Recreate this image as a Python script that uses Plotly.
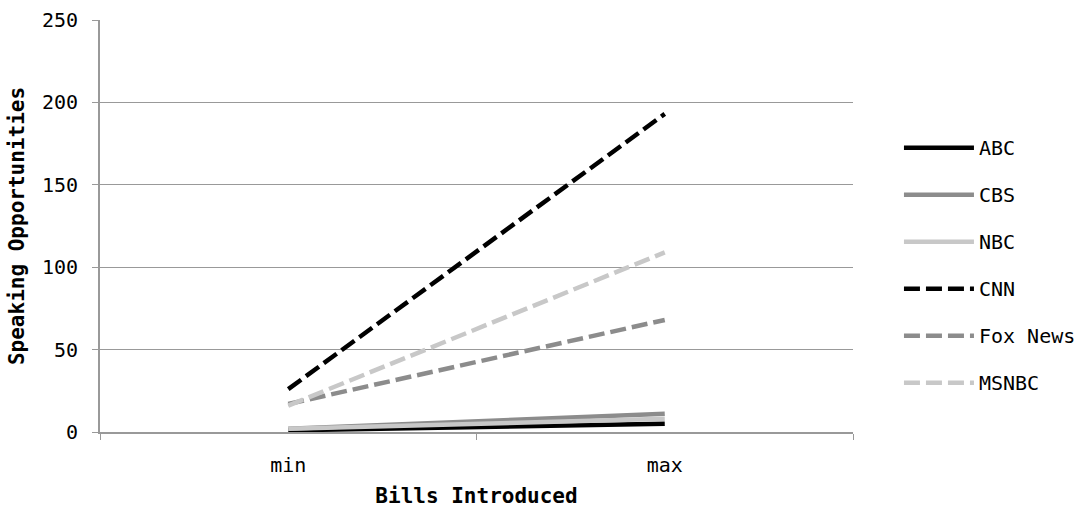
import plotly.graph_objects as go

categories = ["min", "max"]
series_names = ["ABC", "CBS", "NBC", "CNN", "Fox News", "MSNBC"]
abc = [1, 5]
cbs = [2, 11]
nbc = [2, 8]
cnn = [26, 193]
fox = [17, 68]
msnbc = [16, 109]
y_ticks = [0, 50, 100, 150, 200, 250]

values = [abc, cbs, nbc, cnn, fox, msnbc]
colors = ["#000000", "#8c8c8c", "#c8c8c8", "#000000", "#8c8c8c", "#c8c8c8"]
dashes = ["solid", "solid", "solid", "16px,6px", "16px,6px", "16px,6px"]

FONT = "DejaVu Sans Mono"

fig = go.Figure()
for name, vals, c, d in zip(series_names, values, colors, dashes):
    fig.add_trace(go.Scatter(
        x=categories, y=vals, name=name, mode="lines",
        line=dict(color=c, width=4.5, dash=d),
        legendgroup=name,
    ))

fig.update_layout(
    width=1081, height=508,
    margin=dict(l=100, r=228, t=20, b=76, autoexpand=False),
    plot_bgcolor="white", paper_bgcolor="white",
    font=dict(family=FONT, size=20, color="#000000"),
    showlegend=True,
    legend=dict(xref="container", yref="container",
                x=0.8316, xanchor="left", y=0.478, yanchor="middle",
                maxheight=480,
                itemwidth=70, tracegroupgap=18, font=dict(size=20, family=FONT)),
    xaxis=dict(
        type="category", range=[-0.5, 1.5],
        showline=True, linecolor="#999999", linewidth=2,
        ticks="outside", tickson="boundaries", ticklen=6, tickcolor="#999999",
        ticklabelstandoff=14,
        showgrid=False,
        title=dict(text="<b>Bills Introduced</b>", font=dict(size=21, family=FONT), standoff=12),
    ),
    yaxis=dict(
        range=[0, 250], tickvals=y_ticks,
        showline=True, linecolor="#999999", linewidth=2,
        ticks="outside", ticklen=6, tickcolor="#999999",
        ticklabelstandoff=10,
        showgrid=True, gridcolor="#999999", gridwidth=1,
        zeroline=False,
        title=dict(text="<b>Speaking Opportunities</b>", font=dict(size=21, family=FONT), standoff=12),
    ),
)

fig.write_html("out.html")
